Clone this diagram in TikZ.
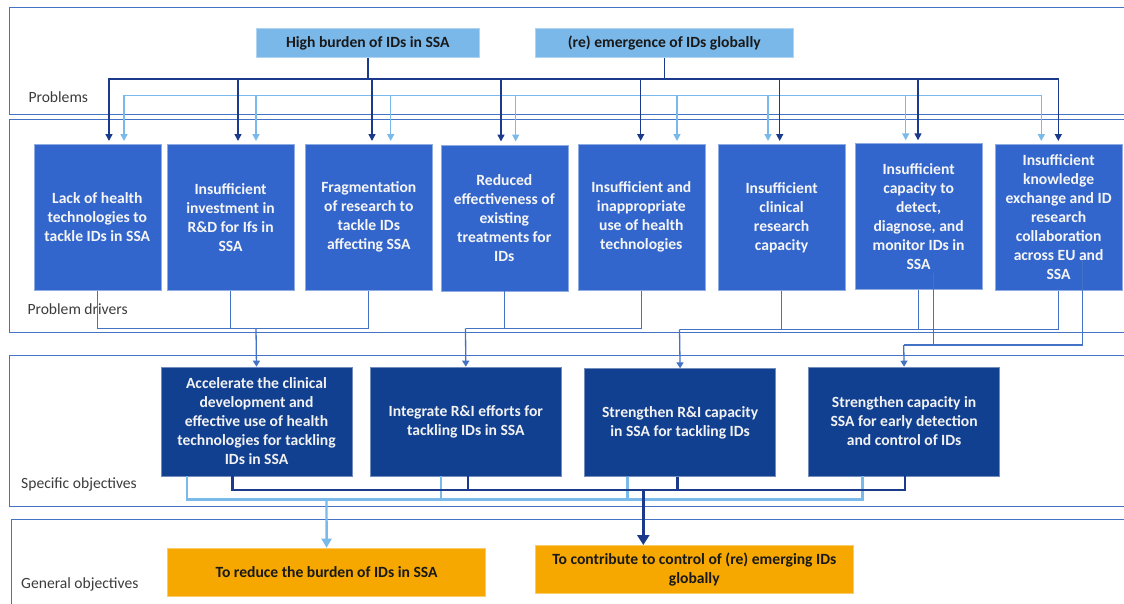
\documentclass[tikz,border=0pt]{standalone}
\usepackage{fontspec}
\setmainfont{Carlito}
\usetikzlibrary{arrows.meta}

\definecolor{probfill}{RGB}{122,184,234}
\definecolor{drvfill}{RGB}{51,102,204}
\definecolor{sofill}{RGB}{18,64,145}
\definecolor{gofill}{RGB}{246,168,0}
\definecolor{panelblue}{RGB}{68,114,196}
\definecolor{navy}{RGB}{28,58,140}
\definecolor{skyline}{RGB}{122,186,234}
\definecolor{midblue}{RGB}{68,114,196}
\definecolor{labelgray}{RGB}{60,60,60}

\newcommand\bxfont{\fontsize{15.6pt}{19pt}\selectfont\bfseries}
\newcommand\lbfont{\fontsize{15.6pt}{19pt}\selectfont}

\tikzset{
  box/.style={anchor=north west, inner sep=0pt, align=center, font=\bxfont, line width=0.6pt},
  probbox/.style={box, fill=probfill, draw=probfill!60!white, text=black!90, minimum height=29pt},
  drvbox/.style={box, fill=drvfill, draw=drvfill!55!white, text=white!96!black, minimum width=127pt, minimum height=146pt},
  sobox/.style={box, fill=sofill, draw=sofill!60!white, text=white!95!black, minimum width=191pt, minimum height=109pt},
  gobox/.style={box, fill=gofill, draw=gofill!60!white, text=black!90, minimum width=318pt, minimum height=48pt},
  panel/.style={draw=panelblue, line width=1pt},
  tag/.style={anchor=base west, inner sep=0pt, font=\lbfont, text=labelgray},
  navyln/.style={draw=navy, line width=1.5pt, line join=miter},
  skyln/.style={draw=skyline, line width=1.5pt, line join=miter},
  toptip/.style={{Triangle[length=7pt,width=7pt]}},
  navyarr/.style={navyln, -{Triangle[length=7pt,width=7pt]}, shorten >=3pt},
  skyarr/.style={skyln, -{Triangle[length=7pt,width=7pt]}, shorten >=3pt},
  midln/.style={draw=midblue, line width=1.3pt, line join=miter},
  midarr/.style={midln, -{Triangle[length=6pt,width=7pt]}},
  sonavy/.style={draw=navy, line width=2.4pt, line join=miter},
  sosky/.style={draw=skyline, line width=2.4pt, line join=miter},
}

\begin{document}
\begin{tikzpicture}[x=1pt,y=-1pt]
\clip (0,0) rectangle (1124,603);
\fill[white] (0,0) rectangle (1124,603);

% band frames
\draw[panel] (9.3,7.3) rectangle (1135,114);
\draw[panel] (9.3,119.3) rectangle (1135,332.7);
\draw[panel] (9.3,355.5) rectangle (1135,506);
\draw[panel] (11.7,519.3) rectangle (1135,615);

% band titles
\node[tag] (tp) at (28.3,102) {Problems};
\node[tag] (td) at (27.3,314.5) {Problem drivers};
\node[tag] (ts) at (21,488) {Specific objectives};
\node[tag] (tg) at (21,588) {General objectives};

% problems
\node[probbox, minimum width=223pt] (p1) at (256,28.3) {High burden of IDs in SSA};
\node[probbox, minimum width=258pt] (p2) at (535,28.3) {(re) emergence of IDs globally};

% problem drivers
\node[drvbox] (d1) at (33.5,144) {Lack of health\\technologies to\\tackle IDs in SSA};
\node[drvbox] (d2) at (166.8,144) {Insufficient\\investment in\\R\&D for Ifs in\\SSA};
\node[drvbox] (d3) at (305,144) {Fragmentation\\of research to\\tackle IDs\\affecting SSA};
\node[drvbox] (d4) at (440.5,144.5) {Reduced\\effectiveness of\\existing\\treatments for\\IDs};
\node[drvbox] (d5) at (577.5,144) {Insufficient and\\inappropriate\\use of health\\technologies};
\node[drvbox] (d6) at (717.8,144) {Insufficient\\clinical\\research\\capacity};
\node[drvbox] (d7) at (854.8,143.3) {Insufficient\\capacity to\\detect,\\diagnose, and\\monitor IDs in\\SSA};
\node[drvbox] (d8) at (994.8,144) {Insufficient\\knowledge\\exchange and ID\\research\\collaboration\\across EU and\\SSA};

% specific objectives
\node[sobox] (s1) at (160.7,366.7) {Accelerate the clinical\\development and\\effective use of health\\technologies for tackling\\IDs in SSA};
\node[sobox] (s2) at (370,366.7) {Integrate R\&I efforts for\\tackling IDs in SSA};
\node[sobox, minimum height=107.7pt] (s3) at (584.3,368.3) {Strengthen R\&I capacity\\in SSA for tackling IDs};
\node[sobox] (s4) at (808.3,366.7) {Strengthen capacity in\\SSA for early detection\\and control of IDs};

% general objectives
\node[gobox] (g1) at (167.3,547.7) {To reduce the burden of IDs in SSA};
\node[gobox] (g2) at (535,545) {To contribute to control of (re) emerging IDs\\globally};

% ---- problems -> drivers: light bus
\foreach \x [count=\n] in {124,256,390.7,515.7,677,768,905.7,1041.3}
  \coordinate (lk\n) at (\x,95.7);
\draw[skyln, {Triangle[length=7pt,width=7pt]}-{Triangle[length=7pt,width=7pt]}, shorten <=3pt, shorten >=3pt]
  (lk1 |- d1.north) -- (lk1) -- (lk8) -- (lk8 |- d8.north);
\foreach \n in {2,...,7}
  \draw[skyarr] (lk\n) -- (lk\n |- d\n.north);

% ---- problems -> drivers: dark bus
\foreach \x [count=\n] in {109,238,372,501,640.7,779.7,918,1058.3}
  \coordinate (dk\n) at (\x,79);
\draw[navyln] (p1.south) -- (p1.south |- dk1);
\draw[navyln] (p2.south) -- (p2.south |- dk1);
\draw[navyln, {Triangle[length=7pt,width=7pt]}-{Triangle[length=7pt,width=7pt]}, shorten <=3pt, shorten >=3pt]
  (dk1 |- d1.north) -- (dk1) -- (dk8) -- (dk8 |- d8.north);
\foreach \n in {2,...,7}
  \draw[navyarr] (dk\n) -- (dk\n |- d\n.north);

% ---- drivers -> specific objectives
\coordinate (jA) at (256,328.3);
\draw[midln] (d1.south) |- (jA) -| (d3.south);
\draw[midln] (d2.south) -- (d2.south |- jA);
\draw[midarr] (jA) -- (s1.north);

\coordinate (jB) at (465.5,328.3);
\draw[midln] (d5.south) |- (jB);
\draw[midln] (d4.south) -- (d4.south |- jB);
\draw[midarr] (jB) -- (s2.north);

\coordinate (jC) at (679.5,329.3);
\draw[midln] (jC) -| (d8.south);
\draw[midln] (d6.south) -- (d6.south |- jC);
\draw[midln] (d7.south) -- (d7.south |- jC);
\draw[midarr] (jC) -- (s3.north);

\coordinate (jD) at (903.7,345);
\coordinate (d7in) at (933.3,272.7);
\coordinate (d8in) at (1082.3,260);
\draw[midln] (d7in) |- (jD);
\draw[midln] (d8in) |- (jD);
\draw[midarr] (jD) -- (s4.north);

% ---- specific -> general objectives: light bus
\foreach \x [count=\n] in {186.7,440.7,627.3,862.3}
  \coordinate (sl\n) at (\x,499.3);
\coordinate (jF) at (326.5,499.3);
\draw[sosky] (sl1 |- s1.south) -- (sl1) -- (sl4) -- (sl4 |- s4.south);
\draw[sosky] (sl2 |- s2.south) -- (sl2);
\draw[sosky] (sl3 |- s3.south) -- (sl3);
\draw[sosky, -{Triangle[length=9pt,width=10pt]}] (jF) -- (g1.north);

% ---- specific -> general objectives: dark bus
\foreach \x [count=\n] in {232.3,467.7,677.3,904.7}
  \coordinate (sd\n) at (\x,490);
\coordinate (jE) at (643.3,490);
\draw[sonavy] (sd1 |- s1.south) -- (sd1) -- (sd4) -- (sd4 |- s4.south);
\draw[sonavy] (sd2 |- s2.south) -- (sd2);
\draw[sonavy] (sd3 |- s3.south) -- (sd3);
\draw[navy, line width=3pt, -{Triangle[length=10pt,width=12pt]}] (jE) -- (jE |- g2.north);

\end{tikzpicture}
\end{document}
